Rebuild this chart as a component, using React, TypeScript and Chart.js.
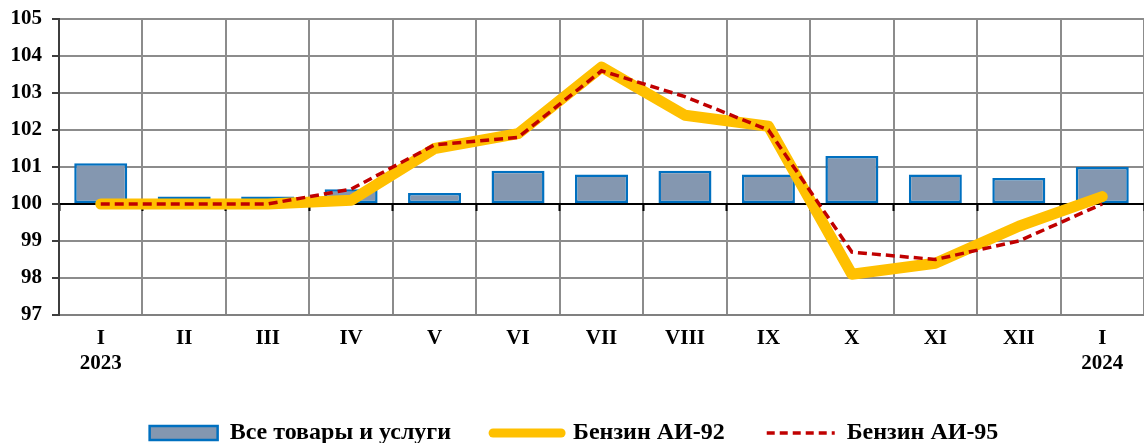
import React, { useEffect, useRef } from 'react';
import { Chart, registerables } from 'chart.js';

Chart.register(...registerables);

const months = ['I', 'II', 'III', 'IV', 'V', 'VI', 'VII', 'VIII', 'IX', 'X', 'XI', 'XII', 'I'];
const years = ['2023', '', '', '', '', '', '', '', '', '', '', '', '2024'];

const allGoods = [101.1, 100.2, 100.2, 100.4, 100.3, 100.9, 100.8, 100.9, 100.8, 101.3, 100.8, 100.7, 101.0];
const ai92 = [100.0, 100.0, 100.0, 100.1, 101.5, 101.9, 103.7, 102.4, 102.1, 98.1, 98.4, 99.4, 100.2];
const ai95 = [100.0, 100.0, 100.0, 100.4, 101.6, 101.8, 103.6, 102.9, 102.0, 98.7, 98.5, 99.0, 100.0];

const seriesNames = ['Все товары и услуги', 'Бензин АИ-92', 'Бензин АИ-95'];

const yMin = 97;
const yMax = 105;
const yStep = 1;
const baseValue = 100;

export default function App() {
  const ref = useRef<HTMLCanvasElement>(null);

  useEffect(() => {
    const labels = months.map((m, i) => (years[i] ? [m, years[i]] : m));
    const fam = "'Liberation Serif', 'Times New Roman', serif";
    const tickFont = { family: fam, weight: 'bold' as const, size: 21 };

    const legendFit = {
      id: 'legendFit',
      afterInit(chart: any) {
        const lg = chart.legend;
        if (!lg) return;
        const orig = lg.fit.bind(lg);
        lg.fit = function () {
          orig();
          this.height = Math.max(0, this.height - 12);
        };
      },
    };

    const chart = new Chart(ref.current as HTMLCanvasElement, {
      type: 'bar',
      data: {
        labels,
        datasets: [
          {
            type: 'bar',
            label: seriesNames[0],
            data: allGoods,
            base: baseValue,
            backgroundColor: '#8497B0',
            borderColor: '#0070C0',
            borderWidth: 2.5,
            borderSkipped: false,
            barPercentage: 0.635,
            categoryPercentage: 1,
            order: 3,
          } as any,
          {
            type: 'line',
            label: seriesNames[1],
            data: ai92,
            borderColor: '#FFC000',
            backgroundColor: '#FFC000',
            borderWidth: 11,
            borderCapStyle: 'round',
            borderJoinStyle: 'round',
            pointRadius: 0,
            tension: 0,
            order: 2,
          } as any,
          {
            type: 'line',
            label: seriesNames[2],
            data: ai95,
            borderColor: '#C00000',
            backgroundColor: '#C00000',
            borderWidth: 3.5,
            borderDash: [9, 5],
            pointRadius: 0,
            tension: 0,
            order: 1,
          } as any,
        ],
      },
      options: {
        responsive: false,
        animation: false,
        layout: { padding: { top: 19, right: -4, left: 0, bottom: 0 } },
        plugins: {
          tooltip: { enabled: false },
          legend: {
            position: 'bottom',
            labels: {
              usePointStyle: true,
              pointStyleWidth: 68,
              boxHeight: 14,
              padding: 42,
              color: '#000',
              font: { family: fam, weight: 'bold', size: 24 },
              generateLabels: (c: any) =>
                c.data.datasets.map((ds: any, i: number) => ({
                  text: ds.label,
                  fillStyle: ds.backgroundColor,
                  strokeStyle: ds.borderColor,
                  lineWidth: i === 0 ? 2.5 : i === 1 ? 9 : 3.5,
                  lineDash: i === 2 ? [8, 5] : [],
                  lineCap: i === 1 ? 'round' : 'butt',
                  pointStyle: i === 0 ? 'rect' : 'line',
                  datasetIndex: i,
                  hidden: false,
                  fontColor: '#000',
                })),
            },
          } as any,
        },
        scales: {
          x: {
            offset: true,
            grid: { offset: true, color: '#8c8c8c', lineWidth: 2, drawTicks: false },
            border: { color: '#808080', width: 2 },
            ticks: { color: '#000', font: tickFont, padding: 11, maxRotation: 0, autoSkip: false },
            afterFit(s: any) {
              s.height = 64;
            },
          } as any,
          x2: {
            type: 'category',
            position: { y: baseValue },
            offset: true,
            grid: {
              offset: true,
              drawOnChartArea: false,
              drawTicks: true,
              tickLength: 6,
              tickColor: '#000',
              tickWidth: 2,
            },
            border: { color: '#000', width: 2 },
            ticks: { display: false },
          } as any,
          y: {
            min: yMin,
            max: yMax,
            ticks: { stepSize: yStep, color: '#000', font: tickFont, padding: 10 },
            grid: { color: '#8c8c8c', lineWidth: 2, tickLength: 7, tickColor: '#3d3d3d', tickWidth: 2 },
            border: { color: '#3d3d3d', width: 2 },
            afterFit(s: any) {
              s.width = 59;
              s.paddingTop = 0;
              s.paddingBottom = 0;
            },
          } as any,
        },
      },
      plugins: [legendFit as any],
    });

    return () => chart.destroy();
  }, []);

  return (
    <div style={{ position: 'fixed', left: 0, top: 0, width: 1144, height: 443, background: '#fff' }}>
      <canvas ref={ref} width={1144} height={443} style={{ width: 1144, height: 443, display: 'block' }} />
    </div>
  );
}
